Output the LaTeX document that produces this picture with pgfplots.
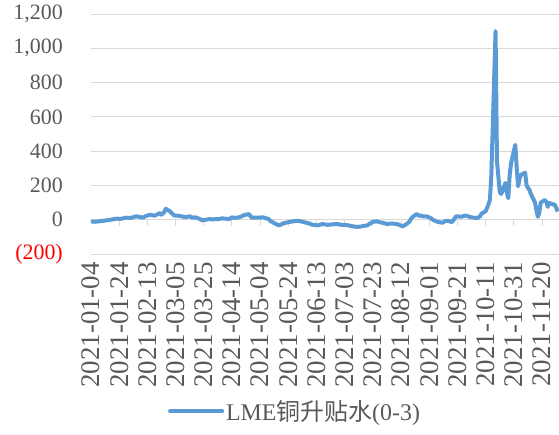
\documentclass[border=0pt]{standalone}
\usepackage{fontspec}
\setmainfont{Liberation Serif}
\newfontfamily\cjk{Noto Sans CJK SC}
\usepackage{pgfplots}
\pgfplotsset{compat=1.18}
\definecolor{series}{HTML}{5B9BD5}
\definecolor{txt}{HTML}{595959}
\definecolor{gridc}{HTML}{D9D9D9}

% LME copper cash-to-3M spread; x = calendar days after 2021-01-04
\pgfplotstableread{
d v
0 -15
1 -10
3 -12
7 -8
10 -5
14 0
18 6
21 5
25 12
28 10
32 20
35 15
37 12
39 22
42 29
45 23
49 39
50 29
52 45
53 64
56 49
57 40
59 25
63 22
64 20
67 15
70 20
72 12
74 14
77 5
79 -4
84 4
86 2
91 4
93 8
98 4
100 14
102 10
105 14
107 20
108 25
112 33
113 22
114 12
119 12
122 14
126 4
127 -6
130 -20
133 -33
135 -28
136 -22
140 -14
143 -10
147 -6
150 -12
154 -20
157 -29
161 -33
163 -28
164 -25
168 -30
170 -28
175 -25
176 -28
178 -30
182 -32
184 -36
186 -39
189 -42
191 -40
196 -33
198 -22
200 -12
203 -10
205 -15
207 -18
210 -25
213 -22
217 -25
220 -35
221 -39
224 -25
226 -10
227 5
228 15
231 33
233 22
234 25
235 20
238 20
241 10
242 2
245 -10
247 -14
249 -18
252 -6
255 -10
256 -15
259 20
262 18
263 18
266 25
268 18
270 14
273 10
274 10
276 20
277 35
280 50
281 70
282 90
283 117
284 260
287 1100
288 340
289 250
290 160
291 150
294 215
295 160
296 125
297 260
298 330
301 437
302 300
303 195
304 240
305 262
308 274
309 200
310 185
311 175
312 150
315 100
316 55
317 17
318 40
319 100
322 115
323 105
324 75
325 98
326 95
329 87
330 70
331 47
}\spread

\begin{document}
\begin{tikzpicture}
\begin{axis}[
  scale only axis, width=468bp, height=240bp,
  xmin=0, xmax=332, ymin=-200, ymax=1200,
  axis line style={draw=none},
  major tick length=0pt,
  ytick={-200,0,...,1200},
  yticklabels={{\textcolor{red}{(200)}},0,200,400,600,800,{1,000},{1,200}},
  ymajorgrids, grid style={gridc, line width=1bp},
  xtick={0,20,...,320},
  xticklabels={2021-01-04,2021-01-24,2021-02-13,2021-03-05,2021-03-25,2021-04-14,2021-05-04,2021-05-24,2021-06-13,2021-07-03,2021-07-23,2021-08-12,2021-09-01,2021-09-21,2021-10-11,2021-10-31,2021-11-20},
  xticklabel style={rotate=90, anchor=east, inner sep=0pt, text=txt, font=\fontsize{27}{27}\selectfont},
  xticklabel shift=8bp,
  yticklabel style={anchor=east, inner sep=0pt, text=txt, font=\fontsize{22}{22}\selectfont},
  yticklabel shift=28bp,
  legend style={at={(0.436,-0.655)}, anchor=center, draw=none, fill=none, text=txt, font=\fontsize{24}{24}\selectfont},
  legend image code/.code={\draw[#1, line cap=round] (0bp,0bp) -- (52bp,0bp);},
]
\coordinate (sw) at (rel axis cs:0,0);
\coordinate (ne) at (rel axis cs:1,1);
\pgfplotsinvokeforeach{0,20,...,320}{
  \draw[gridc, line width=1bp] (axis cs:#1,0) -- ([yshift=-6bp]axis cs:#1,0);
}
\addplot[series, line width=4bp, line join=round] table[x=d, y=v] {\spread};
\addlegendentry{LME{\cjk 铜升贴水}(0-3)}
\end{axis}
\pgfresetboundingbox
\path ([shift={(-91bp,-181bp)}]sw) rectangle ([shift={(0bp,14bp)}]ne);
\end{tikzpicture}
\end{document}
